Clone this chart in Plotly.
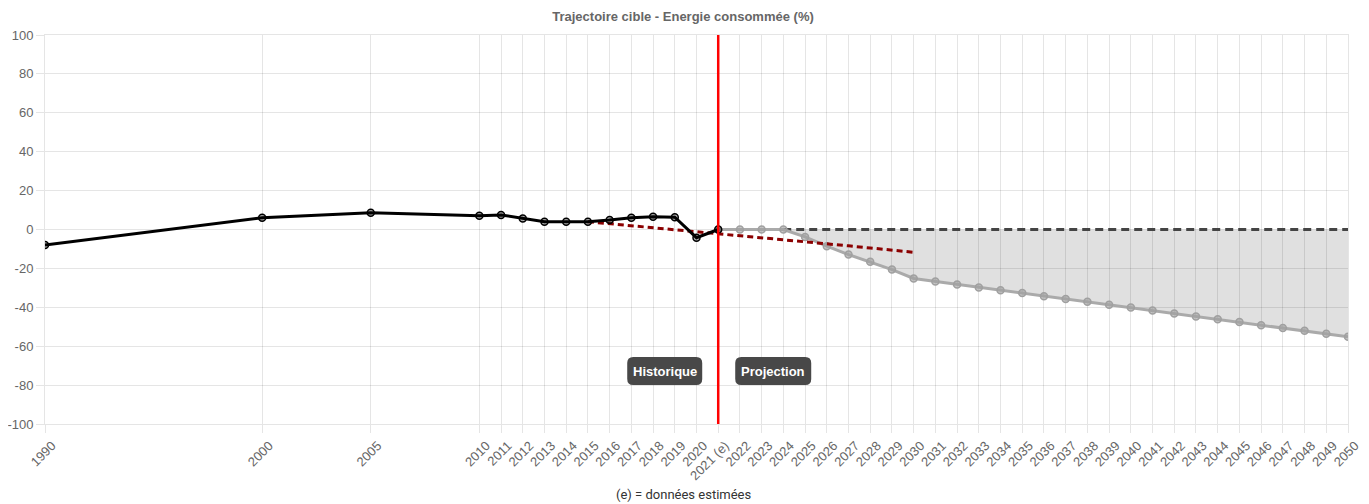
import plotly.graph_objects as go

# ---- data ----
hist_years = [1990, 2000, 2005, 2010, 2011, 2012, 2013, 2014, 2015, 2016, 2017, 2018, 2019, 2020, 2021]
hist_values = [-8.0, 6.0, 8.6, 7.1, 7.5, 5.7, 4.0, 4.0, 4.0, 4.9, 6.1, 6.6, 6.3, -4.2, 0.0]

proj_years = list(range(2021, 2051))
proj_values = [0, 0, 0, 0, -3.8, -8.6, -12.9, -16.6, -20.6, -25.2,
               -26.7, -28.3, -29.8, -31.2, -32.7, -34.3, -35.7, -37.2, -38.7, -40.1,
               -41.6, -43.2, -44.7, -46.1, -47.6, -49.2, -50.7, -52.1, -53.6, -55.2]

ref_years = list(range(2021, 2051))
ref_values = [0] * 30

trend_years = list(range(2015, 2031))
trend_values = [4.0, 3.0, 1.9, 0.9, -0.1, -1.1, -2.1, -3.2, -4.2, -5.3,
                -6.3, -7.4, -8.4, -9.5, -10.6, -11.7]

tick_years = [1990, 2000, 2005] + list(range(2010, 2051))
tick_labels = [("2021 (e)" if y == 2021 else str(y)) for y in tick_years]
y_ticks = [100, 80, 60, 40, 20, 0, -20, -40, -60, -80, -100]
y_labels = [str(v) for v in y_ticks]

GRID = "rgba(0,0,0,0.1)"
FONT = "Liberation Sans, Arial, Helvetica, sans-serif"
FS = 13

W, H = 1361, 496           # page has an 8px body margin
L, R, T, B = 37, 21, 27, 80
PLOT_H = H - T - B

fig = go.Figure()

fig.add_trace(go.Scatter(
    x=ref_years, y=ref_values, mode="lines",
    line=dict(color="#444444", width=3, dash="8px,5px"),
    hoverinfo="skip", showlegend=False))

fig.add_trace(go.Scatter(
    x=proj_years, y=proj_values, mode="lines+markers",
    line=dict(color="#aaaaaa", width=3),
    marker=dict(size=7, color="rgba(160,160,160,0.6)", line=dict(color="#a0a0a0", width=1.5)),
    fill="tonexty", fillcolor="rgba(0,0,0,0.12)",
    showlegend=False))

fig.add_trace(go.Scatter(
    x=trend_years, y=trend_values, mode="lines",
    line=dict(color="#8b0000", width=3, dash="6px,4px"),
    showlegend=False))

fig.add_trace(go.Scatter(
    x=hist_years, y=hist_values, mode="lines+markers",
    line=dict(color="#000000", width=3),
    marker=dict(size=7, color="rgba(0,0,0,0.3)", line=dict(color="#000000", width=1.5)),
    showlegend=False))

# vertical red separator
fig.add_shape(type="line", xref="x", yref="paper", x0=2021, x1=2021, y0=0, y1=1,
              line=dict(color="#ff0000", width=2.5), layer="above")


def rounded(x0, x1, y0, y1, r):
    return (f"M {x0+r},{y0} L {x1-r},{y0} Q {x1},{y0} {x1},{y0+r} "
            f"L {x1},{y1-r} Q {x1},{y1} {x1-r},{y1} L {x0+r},{y1} "
            f"Q {x0},{y1} {x0},{y1-r} L {x0},{y0+r} Q {x0},{y0} {x0+r},{y0} Z")


label_y = -72.8
for text, xa, xb in [("Historique", -91, -16), ("Projection", 17, 93)]:
    fig.add_shape(type="path", xref="x", yref="y", xsizemode="pixel", ysizemode="pixel",
                  xanchor=2021, yanchor=label_y,
                  path=rounded(xa, xb, -14, 14, 6),
                  fillcolor="#484848", line=dict(width=0), layer="above")
    fig.add_annotation(x=2021, y=label_y, xref="x", yref="y", text=f"<b>{text}</b>",
                       showarrow=False, xshift=(xa + xb) / 2, xanchor="center", yanchor="middle",
                       font=dict(family=FONT, size=FS, color="#ffffff"))

fig.add_annotation(x=(675 - L) / (W - L - R), y=-(487 - (H - B)) / PLOT_H, xref="paper", yref="paper",
                   text="(e) = données estimées", showarrow=False, yanchor="middle", xanchor="center",
                   font=dict(family="Roboto, sans-serif", size=FS, color="#333333"))

fig.update_layout(
    width=W, height=H,
    margin=dict(l=L, r=R, t=T, b=B, autoexpand=False),
    paper_bgcolor="white", plot_bgcolor="white",
    title=dict(text="<b>Trajectoire cible - Energie consommée (%)</b>", x=675 / W, xanchor="center",
               xref="container", y=1 - 8 / H, yanchor="middle", yref="container",
               font=dict(family=FONT, size=FS, color="#666666")),
    font=dict(family=FONT, size=FS, color="#666666"),
    xaxis=dict(range=[1990, 2050], tickmode="array", tickvals=tick_years, ticktext=tick_labels,
               tickangle=-45, showgrid=True, gridcolor=GRID, gridwidth=1,
               ticks="outside", ticklen=8, tickcolor=GRID, automargin=False,
               ticklabelshift=7,
               showline=True, linecolor=GRID, mirror=True, zeroline=False,
               tickfont=dict(family=FONT, size=FS, color="#666666")),
    yaxis=dict(range=[-100, 100], tickmode="array", tickvals=y_ticks, ticktext=y_labels,
               showgrid=True, gridcolor=GRID, gridwidth=1,
               ticks="outside", ticklen=8, tickcolor=GRID, automargin=False,
               showline=True, linecolor=GRID, mirror=True, zeroline=False,
               tickfont=dict(family=FONT, size=FS, color="#666666")),
)

fig.write_html("out.html")
